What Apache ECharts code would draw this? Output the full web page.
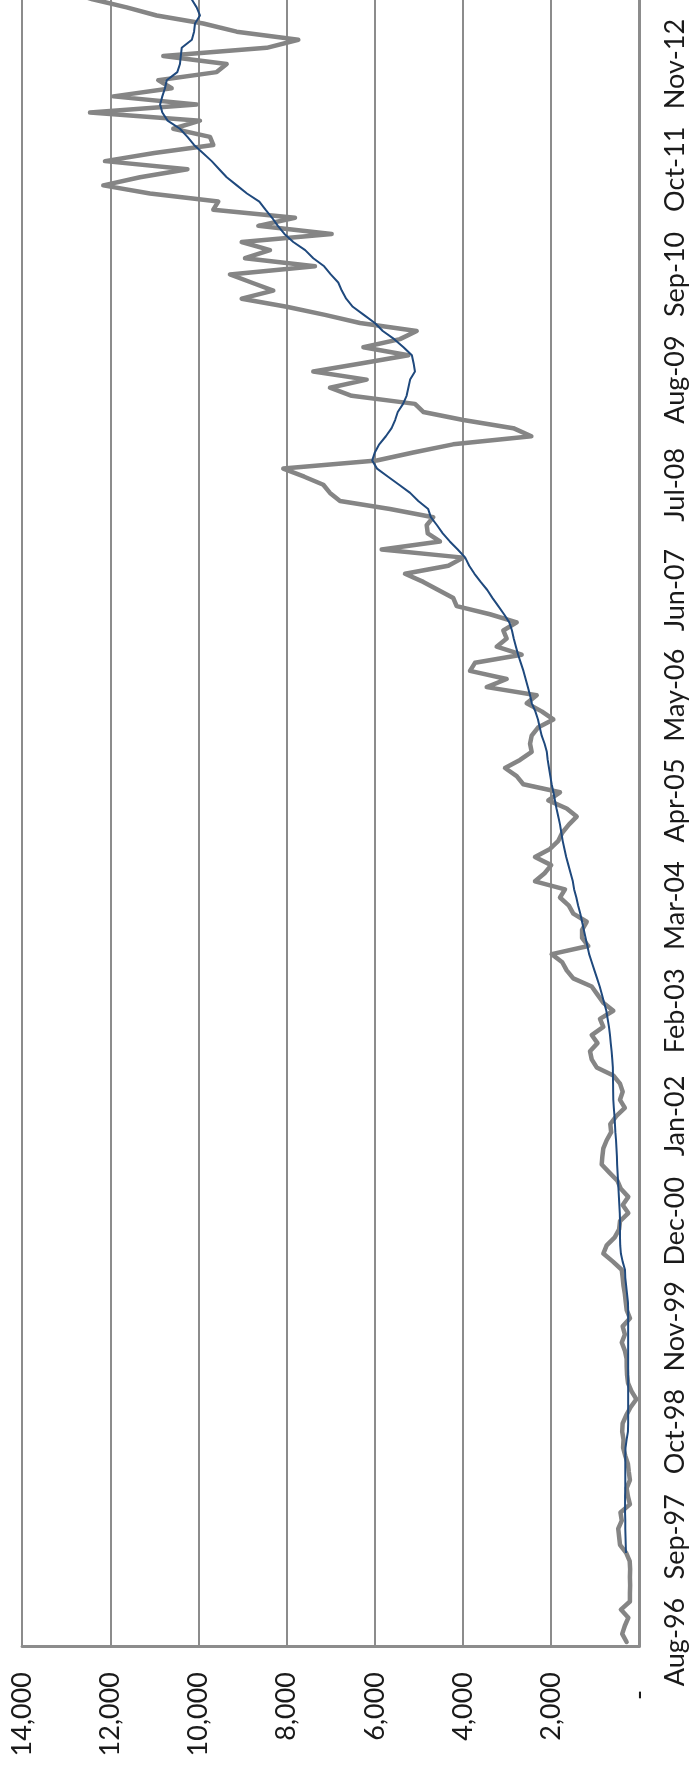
<!DOCTYPE html>
<html>
<head>
<meta charset="utf-8">
<script src="https://cdn.jsdelivr.net/npm/echarts@6/dist/echarts.min.js"></script>
<style>
html,body{margin:0;padding:0;background:#ffffff;overflow:hidden;}
#wrap{position:relative;width:692px;height:1773px;overflow:hidden;}
#chart{position:absolute;left:0;width:692px;}
</style>
</head>
<body>
<div id="wrap"><div id="chart"></div></div>
<script>
// ---- data ----
const monthNames = ['Jan','Feb','Mar','Apr','May','Jun','Jul','Aug','Sep','Oct','Nov','Dec'];
const firstYear = 1996;
const firstMonthIndex = 7; // Aug
const monthCount = 205;    // Aug-96 ... Aug-13
const categories = [];
for (let k = 0; k < monthCount; k++) {
  const m = (firstMonthIndex + k) % 12;
  const y = firstYear + Math.floor((firstMonthIndex + k) / 12);
  categories.push(monthNames[m] + '-' + String(y % 100).padStart(2, '0'));
}

const valueTicks = [0, 2000, 4000, 6000, 8000, 10000, 12000, 14000];

const monthlyValues = [
  290, 390, 330, 250, 420, 215, 215, 210, 215, 210,
  220, 300, 440, 460, 480, 400, 430, 215, 260, 290,
  215, 240, 260, 320, 370, 360, 390, 380, 300, 200,
  70, 180, 258, 280, 288, 290, 330, 400, 330, 380,
  213, 288, 310, 330, 360, 379, 401, 600, 818, 742,
  560, 460, 440, 252, 379, 252, 420, 500, 680, 855,
  840, 818, 742, 640, 660, 520, 330, 440, 379, 440,
  592, 969, 1082, 1120, 950, 1082, 818, 894, 592, 820,
  950, 1082, 1500, 1649, 1750, 1989, 1159, 1300, 1300, 1195,
  1499, 1600, 1801, 1687, 2368, 2150, 2000, 2368, 2028, 1839,
  1750, 1600, 1422, 1649, 2066, 1801, 2633, 2783, 3048, 2708,
  2443, 2480, 2443, 2300, 1952, 2216, 2556, 2329, 3463, 3010,
  3842, 3729, 2670, 3237, 3010, 3087, 2783, 3389, 4144, 4221,
  4561, 4901, 5316, 4334, 3994, 5845, 4523, 4800, 4824, 4675,
  5657, 6790, 7018, 7169, 7600, 8077, 5958, 5128, 4225, 2450,
  2860, 3994, 4901, 5090, 6525, 7018, 6185, 7396, 6321, 5240,
  6260, 5430, 5051, 6337, 7131, 8000, 9020, 8303, 8800, 9286,
  7358, 8945, 8378, 9020, 6979, 8643, 7811, 9664, 9551, 11100,
  12159, 11327, 10250, 12121, 11000, 9664, 9739, 10571, 9966, 12460,
  10041, 11932, 10608, 10912, 9587, 9361, 10798, 8453, 7736, 9134,
  9891, 10948, 11629, 12400, 13000
];

const movingAverage = [
  null, null, null, null, null, null, null, null, null, null,
  null, 305, 310, 315, 320, 320, 325, 325, 325, 320,
  320, 320, 320, 320, 315, 290, 260, 255, 255, 255,
  255, 255, 255, 255, 255, 255, 255, 255, 255, 255,
  255, 255, 260, 280, 300, 320, 327, 380, 420, 435,
  440, 440, 440, 445, 455, 465, 475, 485, 495, 505,
  510, 520, 530, 545, 555, 565, 580, 592, 595, 597,
  600, 602, 615, 630, 650, 667, 690, 720, 750, 800,
  850, 900, 960, 1020, 1080, 1140, 1180, 1220, 1260, 1300,
  1340, 1390, 1430, 1480, 1510, 1560, 1610, 1660, 1700, 1740,
  1770, 1800, 1840, 1880, 1915, 1950, 1990, 2020, 2050, 2080,
  2100, 2150, 2216, 2260, 2300, 2360, 2440, 2480, 2530, 2580,
  2630, 2690, 2750, 2800, 2850, 2890, 2950, 3070, 3200, 3330,
  3450, 3600, 3740, 3860, 3950, 4120, 4300, 4460, 4590, 4730,
  4790, 5015, 5200, 5450, 5700, 5950, 6060, 6000, 5900, 5750,
  5620, 5540, 5480, 5360, 5280, 5240, 5200, 5090, 5120, 5160,
  5350, 5560, 5820, 6000, 6250, 6500, 6650, 6750, 6830, 7000,
  7150, 7396, 7580, 7850, 8050, 8200, 8330, 8480, 8620, 8900,
  9130, 9360, 9530, 9700, 9900, 10100, 10250, 10420, 10700, 10820,
  10870, 10820, 10760, 10720, 10480, 10420, 10400, 10380, 10150, 10100,
  10079, 9966, 10041, 10155, 10200
];

// ---- layout ----
const W = 692, H = 1773;
const plotLeft = 22.1, plotRight = 639.4, plotBottom = 1646;
const band = 8.092;
// the plot runs past the top of the window: the chart canvas is made taller and shifted up
const extra = 24;
const chartH = H + extra;
const gridTop = (plotBottom + extra) - categories.length * band;

const el = document.getElementById('chart');
el.style.top = (-extra) + 'px';
el.style.height = chartH + 'px';

const labelFont = { fontFamily: 'Lato', fontSize: 27, color: '#1a1a1a' };
const lineGray = '#8c8c8c';

const chart = echarts.init(el, null, { renderer: 'canvas', width: W, height: chartH });
chart.setOption({
  animation: false,
  backgroundColor: '#ffffff',
  grid: {
    left: plotLeft,
    right: W - plotRight,
    top: gridTop,
    bottom: H - plotBottom,
    containLabel: false
  },
  xAxis: {
    type: 'value',
    inverse: true,
    position: 'bottom',
    min: valueTicks[0],
    max: valueTicks[valueTicks.length - 1],
    interval: valueTicks[1] - valueTicks[0],
    axisLine: { show: true, lineStyle: { color: lineGray, width: 3 } },
    axisTick: { show: false },
    splitLine: { show: true, lineStyle: { color: lineGray, width: 2 } },
    axisLabel: Object.assign({
      rotate: 90,
      margin: 26,
      formatter: function (v) {
        return v === 0 ? '{z|-}' : v.toLocaleString('en-US');
      },
      rich: { z: Object.assign({ padding: [0, 18, 0, 0] }, labelFont) }
    }, labelFont)
  },
  yAxis: {
    type: 'category',
    data: categories,
    position: 'right',
    boundaryGap: true,
    axisLine: { show: true, onZero: false, lineStyle: { color: lineGray, width: 3 } },
    axisTick: { show: false },
    splitLine: { show: false },
    axisLabel: Object.assign({
      interval: 12,
      rotate: 90,
      margin: 22
    }, labelFont)
  },
  series: [
    {
      name: 'Monthly',
      type: 'line',
      data: monthlyValues,
      symbol: 'none',
      lineStyle: { color: '#858585', width: 4.5, join: 'round', cap: 'round' },
      z: 2
    },
    {
      name: '12-month average',
      type: 'line',
      data: movingAverage,
      symbol: 'none',
      connectNulls: false,
      lineStyle: { color: '#1f497d', width: 2, join: 'round' },
      z: 3
    }
  ]
});
</script>
</body>
</html>
